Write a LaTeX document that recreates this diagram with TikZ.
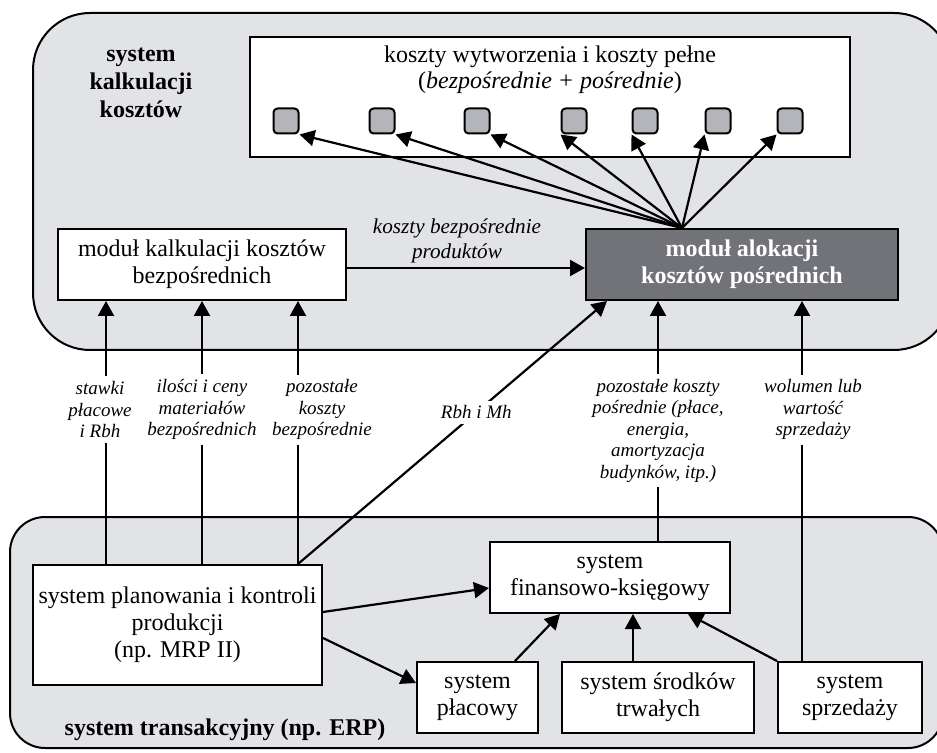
\documentclass[tikz,border=0pt]{standalone}
\usepackage{fontspec}
\setmainfont{Liberation Serif}
\usetikzlibrary{arrows.meta}
\definecolor{panel}{RGB}{226,227,230}
\definecolor{cell}{RGB}{180,181,186}
\definecolor{darkbox}{RGB}{114,115,120}
\begin{document}
\begin{tikzpicture}[x=0.5pt,y=-0.5pt,
  every node/.style={font=\fontsize{12}{13.5}\selectfont, align=center},
  box/.style={draw, line width=1pt, fill=white, inner sep=0pt},
  cellbox/.style={draw, line width=1pt, fill=cell, rounded corners=2pt, minimum size=12.5pt, inner sep=0pt},
  arr/.style={line width=1.1pt, -{Triangle[length=7.5pt,width=8pt]}},
  lab/.style={fill=white, inner sep=2.5pt, font=\fontsize{9.5}{10.75}\selectfont\itshape},
  note/.style={inner sep=0pt, font=\fontsize{10.6}{12.5}\selectfont\itshape},
  heading/.style={font=\fontsize{12}{14}\selectfont\bfseries},
  panelbox/.style={draw, line width=1pt, fill=panel}
]
\useasboundingbox (0,0) rectangle (937,753);
\fill[white] (0,0) rectangle (937,753);

% the two system panels
\draw[panelbox, rounded corners=28.5pt] (33,13) rectangle (951,350);
\draw[panelbox, rounded corners=17.5pt] (10,517) rectangle (943,748);

\node[heading] (hk) at (141,83) {system\\kalkulacji\\kosztów};
\node[heading] (ht) at (225,730) {system transakcyjny (np. ERP)};

% cost results
\node[box, minimum width=300pt, minimum height=60pt] (kw) at (550,97) {};
\node[font=\fontsize{12}{13}\selectfont] (kwtxt) at (550,70) {koszty wytworzenia i koszty pełne\\(\textit{bezpośrednie + pośrednie})};
\foreach \x [count=\i] in {286,382,477,574,645,718,790}
  \node[cellbox] (sq\i) at (\x,121) {};

% calculation modules
\node[box, fill=darkbox, text=white, font=\fontsize{12}{13.5}\selectfont\bfseries,
      minimum width=156pt, minimum height=35.5pt] (alok) at (742,264.5) {moduł alokacji\\kosztów pośrednich};
\node[box, minimum width=144pt, minimum height=35.5pt] (kalk) at (202,264.5) {moduł kalkulacji kosztów\\bezpośrednich};

\coordinate (fan) at ([xshift=-30pt]alok.north);
\foreach \i in {1,2,3}
  \draw[arr] (fan) -- (sq\i.south east);
\foreach \i in {4,5,6,7}
  \draw[arr] (fan) -- (sq\i.south west);

\draw[arr] ([yshift=-1.75pt]kalk.east) -- ([yshift=-1.75pt]alok.west);
\node[note] (kbp) at (457,241) {koszty bezpośrednie\\produktów};

% transaction systems
\node[box, minimum width=144.5pt, minimum height=60pt] (plan) at (177.5,625) {system planowania i kontroli\\produkcji\\(np. MRP II)};
\node[box, minimum width=120pt, minimum height=35.5pt] (fin) at (610,577.5) {system\\finansowo-księgowy};
\node[box, minimum width=60.5pt, minimum height=35.5pt] (placowy) at (477.5,697.5) {system\\płacowy};
\node[box, minimum width=96pt, minimum height=35.5pt] (srodki) at (658,697.5) {system środków\\trwałych};
\node[box, minimum width=72pt, minimum height=35.5pt] (sprzedaz) at (850,697.5) {system\\sprzedaży};

% data flows into the direct cost module
\path ([xshift=-48pt]kalk.south) coordinate (k1)
      (kalk.south) coordinate (k2)
      ([xshift=48pt]kalk.south) coordinate (k3);
\draw[arr] (plan.north -| k1) -- node[lab, pos=0.587, xshift=-3pt] {stawki\\płacowe\\i Rbh} (k1);
\draw[arr] (plan.north -| k2) -- node[lab, pos=0.587] {ilości i ceny\\materiałów\\bezpośrednich} (k2);
\draw[arr] (plan.north -| k3) -- node[lab, pos=0.587, xshift=12pt] {pozostałe\\koszty\\bezpośrednie} (k3);

% data flows into the allocation module
\draw[arr] (plan.north -| k3) -- node[lab, pos=0.577] {Rbh i Mh} ([xshift=11pt]alok.south west);
\draw[arr] ([xshift=24pt]fin.north) -- node[lab, pos=0.459] {pozostałe koszty\\pośrednie (płace,\\energia,\\amortyzacja\\budynków, itp.)} ([xshift=24pt]fin.north |- alok.south);
\draw[arr] ([xshift=-24pt]sprzedaz.north) -- node[lab, pos=0.6975, xshift=5.5pt] {wolumen lub\\wartość\\sprzedaży} ([xshift=-24pt]sprzedaz.north |- alok.south);

% flows between transaction systems
\draw[arr] ([yshift=6.5pt]plan.east) -- ([yshift=-5.25pt]fin.west);
\draw[arr] ([yshift=-6.5pt]plan.east) -- ([yshift=7.25pt]placowy.west);
\draw[arr] ([xshift=18.75pt]placowy.north) -- ([xshift=-25pt]fin.south);
\draw[arr] ([xshift=-12.5pt]srodki.north) -- ([xshift=-12.5pt]srodki.north |- fin.south);
\draw[arr] (sprzedaz.north west) -- ([xshift=39pt]fin.south);
\end{tikzpicture}
\end{document}
